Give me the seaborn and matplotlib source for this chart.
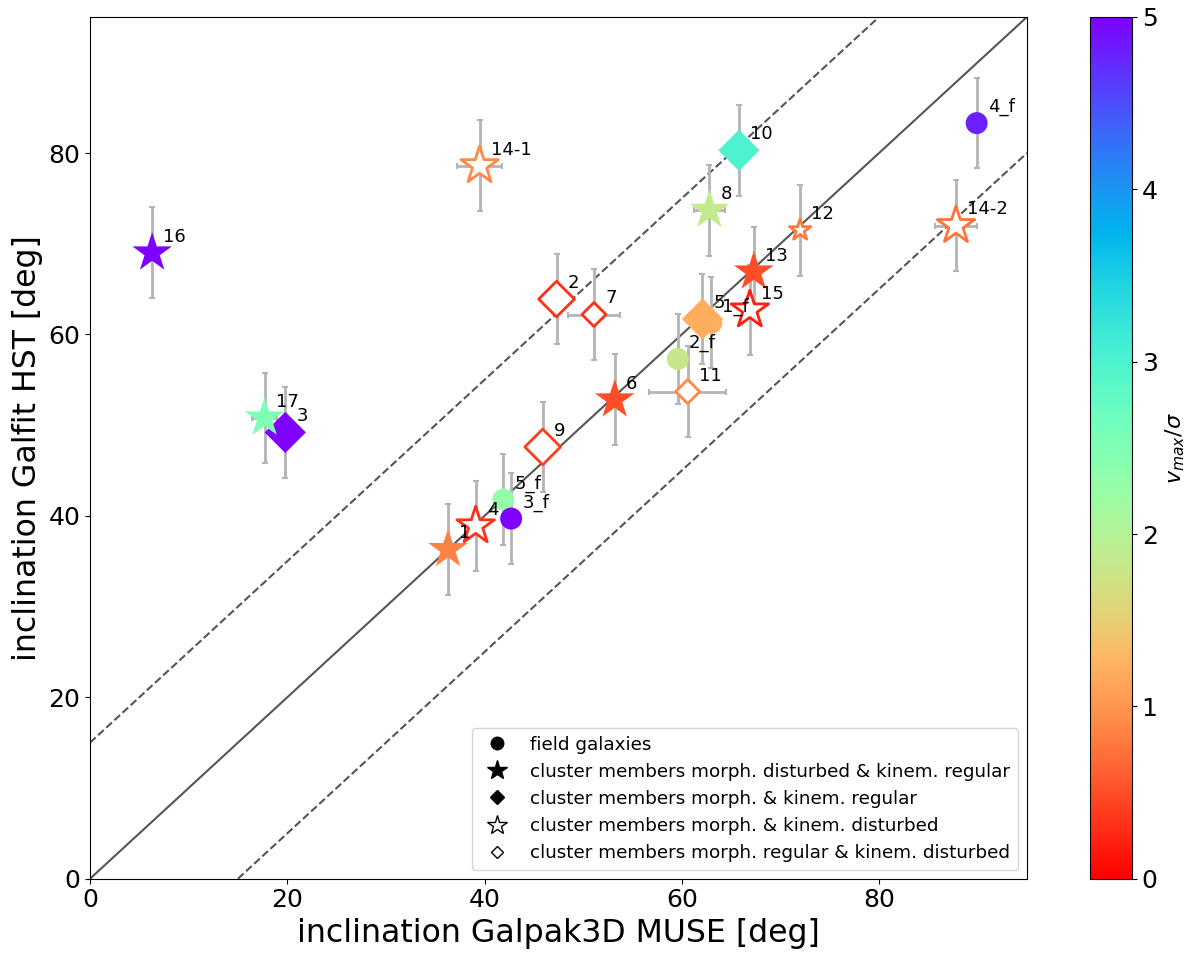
import numpy as np
import pandas as pd
import seaborn as sns
import matplotlib.pyplot as plt
from matplotlib.lines import Line2D
from matplotlib.colors import Normalize
from matplotlib.cm import ScalarMappable

# galaxy ids, inclinations (deg) and vmax/sigma
names = ['1_f', '2_f', '5_f', '3_f', '4_f',
         '3', '5', '10',
         '16', '17', '1', '6', '13', '8',
         '2', '7', '9', '11',
         '14-1', '4', '15', '12', '14-2']
incl_muse = [63.0, 59.6, 41.9, 42.7, 89.9,
             19.8, 62.1, 65.8,
             6.3, 17.7, 36.3, 53.2, 67.3, 62.8,
             47.3, 51.1, 45.9, 60.6,
             39.5, 39.1, 66.9, 72.0, 87.8]
incl_hst = [61.3, 57.3, 41.8, 39.7, 83.3,
            49.2, 61.7, 80.3,
            69.0, 50.8, 36.3, 52.8, 66.9, 73.7,
            63.9, 62.2, 47.6, 53.7,
            78.6, 38.9, 62.7, 71.5, 72.0]
err_muse = [0, 0, 0, 0, 0,
            0, 0, 0,
            0, 1.3, 0, 0, 0, 1.6,
            0, 2.6, 0, 3.9,
            2.3, 0, 0, 0, 2.1]
err_hst = [5, 5, 5, 5, 5,
           5, 5, 5,
           5, 5, 5, 5, 5, 5,
           5, 5, 5, 5,
           5, 5, 5, 5, 5]
vmax_sigma = [1.2, 1.8, 2.3, 5.0, 4.8,
              5.0, 1.2, 3.0,
              5.0, 2.5, 0.85, 0.5, 0.5, 1.85,
              0.3, 0.3, 0.4, 0.9,
              0.9, 0.3, 0.2, 0.8, 0.75]
group = ['field', 'field', 'field', 'field', 'field',
         'reg_reg', 'reg_reg', 'reg_reg',
         'dist_reg', 'dist_reg', 'dist_reg', 'dist_reg', 'dist_reg', 'dist_reg',
         'reg_dist', 'reg_dist', 'reg_dist', 'reg_dist',
         'dist_dist', 'dist_dist', 'dist_dist', 'dist_dist', 'dist_dist']

df = pd.DataFrame({'name': names, 'muse': incl_muse, 'hst': incl_hst,
                   'xerr': err_muse, 'yerr': err_hst, 'vsig': vmax_sigma,
                   'group': group})

# marker, filled?, size per group
styles = {
    'field': ('o', True, 250),
    'reg_reg': ('D', True, 440),
    'dist_reg': ('*', True, 900),
    'reg_dist': ('D', False, 330),
    'dist_dist': ('*', False, 800),
}
small_points = {'12': 260, '7': 150, '11': 150}

fig = plt.figure(figsize=(12, 9.59), dpi=100)
ax = fig.add_axes([0.075, 0.0837, 0.7808, 0.8986])
cax = fig.add_axes([0.9083, 0.0837, 0.035, 0.8986])

# one-to-one line and +-15 deg
ax.axline((0, 0), slope=1, color='#555555', lw=1.5, zorder=0)
ax.axline((0, 15), slope=1, color='#555555', lw=1.5, ls='--', zorder=0)
ax.axline((15, 0), slope=1, color='#555555', lw=1.5, ls='--', zorder=0)

# error bars
ax.errorbar(df['muse'], df['hst'], yerr=df['yerr'], fmt='none',
            ecolor='#b4b4b4', elinewidth=2, capsize=2, capthick=1.5, zorder=1)
hx = df[df['xerr'] > 0]
ax.errorbar(hx['muse'], hx['hst'], xerr=hx['xerr'], fmt='none',
            ecolor='#b4b4b4', elinewidth=2, capsize=2, capthick=1.5, zorder=1)

for g, (m, filled, s) in styles.items():
    sub = df[df['group'] == g]
    sizes = [small_points.get(n, s) for n in sub['name']]
    sns.scatterplot(data=sub, x='muse', y='hst', hue='vsig', palette='rainbow_r',
                    hue_norm=(0, 5), marker=m, s=s, legend=False, ax=ax,
                    linewidth=0 if filled else 2, zorder=3)
    coll = ax.collections[-1]
    coll.set_sizes(sizes)
    if not filled:
        coll.set_edgecolors(coll.get_facecolors())
        coll.set_facecolors('white')

for _, r in df.iterrows():
    ax.annotate(r['name'], (r['muse'], r['hst']), xytext=(8, 8),
                textcoords='offset points', fontsize=13, zorder=4)

ax.set_xlim(0, 95)
ax.set_ylim(0, 95)
ax.set_xticks([0, 20, 40, 60, 80])
ax.set_yticks([0, 20, 40, 60, 80])
ax.tick_params(axis='both', labelsize=18)
ax.set_xlabel('inclination Galpak3D MUSE [deg]', fontsize=22.7)
ax.set_ylabel('inclination Galfit HST [deg]', fontsize=22.7)

# legend with black markers
handles = [
    Line2D([], [], marker='o', color='k', ls='none', markersize=9),
    Line2D([], [], marker='*', color='k', ls='none', markersize=15),
    Line2D([], [], marker='D', color='k', ls='none', markersize=7),
    Line2D([], [], marker='*', color='k', mfc='white', ls='none', markersize=15, mew=1),
    Line2D([], [], marker='D', color='k', mfc='white', ls='none', markersize=6, mew=1),
]
legend_labels = ['field galaxies',
                 'cluster members morph. disturbed & kinem. regular',
                 'cluster members morph. & kinem. regular',
                 'cluster members morph. & kinem. disturbed',
                 'cluster members morph. regular & kinem. disturbed']
ax.legend(handles, legend_labels, loc='lower right', fontsize=13.2)

sm = ScalarMappable(norm=Normalize(0, 5), cmap='rainbow_r')
cb = fig.colorbar(sm, cax=cax)
cb.ax.tick_params(labelsize=18)
cb.set_label(r'$v_{max}/\sigma$', fontsize=16)

plt.savefig('out.png', dpi=100)
